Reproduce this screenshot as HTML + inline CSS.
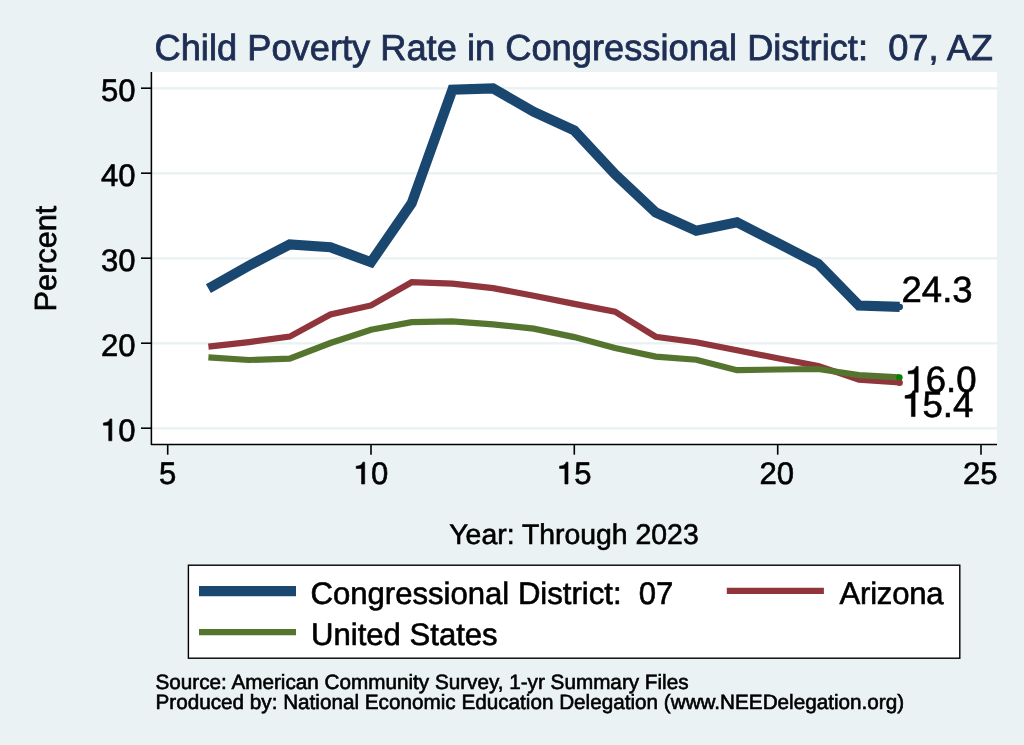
<!DOCTYPE html>
<html><head><meta charset="utf-8"><title>Child Poverty Rate in Congressional District: 07, AZ</title>
<style>
html,body{margin:0;padding:0;background:#eaf2f3;}
body{width:1024px;height:745px;overflow:hidden;font-family:"Liberation Sans",sans-serif;}
svg{display:block;will-change:transform;transform:translateZ(0);-webkit-font-smoothing:antialiased;text-rendering:geometricPrecision;}
text{font-family:"Liberation Sans",sans-serif;fill:#000;stroke:#000;stroke-width:0.6px;paint-order:stroke;}
</style></head><body>
<svg width="1024" height="745" viewBox="0 0 1024 745">
<rect x="0" y="0" width="1024" height="745" fill="#eaf2f3"/>
<rect x="151.4" y="72" width="845.6" height="372.5" fill="#ffffff"/>
<g stroke="#e9f1f2" stroke-width="2.2"><line x1="152" x2="997" y1="88.35" y2="88.35"/><line x1="152" x2="997" y1="173.35" y2="173.35"/><line x1="152" x2="997" y1="258.35" y2="258.35"/><line x1="152" x2="997" y1="343.35" y2="343.35"/><line x1="152" x2="997" y1="428.35" y2="428.35"/></g>
<g fill="none" stroke-linejoin="miter" stroke-linecap="butt" stroke-miterlimit="10">
<polyline stroke="#1a476f" stroke-width="10.1" points="208.4,288.6 249.0,265.6 289.7,244.4 330.4,247.3 371.0,262.2 411.7,203.2 452.4,89.7 493.0,88.4 533.7,111.8 574.3,130.5 615.0,174.2 655.7,212.4 696.3,230.8 737.0,222.3 777.7,243.1 818.3,263.9 859.0,305.5 899.7,306.9"/>
<polyline stroke="#90353b" stroke-width="6.2" points="208.4,346.7 249.0,342.1 289.7,336.6 330.4,314.5 371.0,305.4 411.7,282.2 452.4,283.7 493.0,288.1 533.7,295.7 574.3,303.9 615.0,311.6 655.7,336.7 696.3,342.3 737.0,350.3 777.7,358.3 818.3,365.9 859.0,379.6 899.7,382.5"/>
<polyline stroke="#55752f" stroke-width="6.2" points="208.4,357.4 249.0,360.0 289.7,358.6 330.4,343.0 371.0,329.8 411.7,322.1 452.4,321.4 493.0,324.3 533.7,328.6 574.3,337.1 615.0,348.1 655.7,356.6 696.3,359.7 737.0,370.2 777.7,369.5 818.3,369.0 859.0,375.1 899.7,377.4"/>
</g>
<circle cx="899.9" cy="306.9" r="3.1" fill="#1a476f"/>
<circle cx="899.4" cy="377.4" r="3.25" fill="#008400"/>
<circle cx="899.6" cy="382.7" r="3.25" fill="#90353b"/>
<g font-size="36.6px">
<text x="901.50" y="302.20">24.3</text><text x="905.30" y="392.40"><tspan visibility="hidden">1</tspan>6.0</text><text x="902.20" y="416.80"><tspan visibility="hidden">1</tspan>5.4</text>
</g>
<path d="M151.4,72 V444.5 H997" stroke="#000" stroke-width="1.55" fill="none" stroke-linejoin="round"/>
<g stroke="#000" stroke-width="1.6"><line x1="141" x2="151.4" y1="88.2" y2="88.2"/><line x1="141" x2="151.4" y1="173.2" y2="173.2"/><line x1="141" x2="151.4" y1="258.2" y2="258.2"/><line x1="141" x2="151.4" y1="343.2" y2="343.2"/><line x1="141" x2="151.4" y1="428.2" y2="428.2"/><line x1="167.7" x2="167.7" y1="444.5" y2="454.7"/><line x1="371.0" x2="371.0" y1="444.5" y2="454.7"/><line x1="574.3" x2="574.3" y1="444.5" y2="454.7"/><line x1="777.7" x2="777.7" y1="444.5" y2="454.7"/><line x1="981.0" x2="981.0" y1="444.5" y2="454.7"/></g>
<g font-size="31.1px"><text x="100.92" y="101.00">50</text><text x="100.92" y="186.00">40</text><text x="100.92" y="271.00">30</text><text x="100.92" y="356.00">20</text><text x="100.92" y="441.00"><tspan visibility="hidden">1</tspan>0</text><text x="159.05" y="484.20">5</text><text x="353.73" y="484.20"><tspan visibility="hidden">1</tspan>0</text><text x="557.06" y="484.20"><tspan visibility="hidden">1</tspan>5</text><text x="759.58" y="484.20">20</text><text x="962.91" y="484.20">25</text></g>
<g fill="#000" stroke="#000" stroke-width="0.6" stroke-linejoin="miter"><path d="M111.86,440.81L111.86,418.95L110.00,418.95C109.50,421.03 107.60,422.71 103.40,422.96L103.40,425.23L108.75,425.23L108.75,440.81Z"/><path d="M364.68,484.01L364.68,462.15L362.81,462.15C362.32,464.23 360.42,465.91 356.22,466.16L356.22,468.43L361.57,468.43L361.57,484.01Z"/><path d="M568.01,484.01L568.01,462.15L566.14,462.15C565.64,464.23 563.74,465.91 559.55,466.16L559.55,468.43L564.90,468.43L564.90,484.01Z"/><path d="M918.18,392.18L918.18,366.45L915.99,366.45C915.40,368.90 913.17,370.88 908.23,371.17L908.23,373.84L914.52,373.84L914.52,392.18Z"/><path d="M915.08,416.58L915.08,390.85L912.89,390.85C912.30,393.30 910.07,395.28 905.13,395.57L905.13,398.24L911.42,398.24L911.42,416.58Z"/></g>
<text x="154.5" y="59.7" font-size="36.27px" style="fill:#1e2d53;stroke:#1e2d53;stroke-width:0.8px">Child Poverty Rate in Congressional District:&#160; 07, AZ</text>
<text transform="translate(55.5,258.5) rotate(-90)" text-anchor="middle" font-size="30.7px">Percent</text>
<text x="574" y="543.9" text-anchor="middle" font-size="28.4px">Year: Through 2023</text>
<rect x="188.4" y="565.2" width="771.4" height="93" fill="#ffffff" stroke="#000" stroke-width="1.4"/>
<g fill="none">
<line x1="199" x2="296" y1="591.05" y2="591.05" stroke="#1a476f" stroke-width="10.2"/>
<line x1="726.8" x2="823.9" y1="590.9" y2="590.9" stroke="#90353b" stroke-width="6.2"/>
<line x1="199" x2="296" y1="632.2" y2="632.2" stroke="#55752f" stroke-width="6.3"/>
</g>
<g font-size="31.1px">
<text x="310.5" y="603.9">Congressional District:&#160; 07</text>
<text x="839.5" y="603.5" letter-spacing="-0.22">Arizona</text>
<text x="311" y="645.4">United States</text>
</g>
<g font-size="20.7px">
<text x="155.5" y="688.9">Source: American Community Survey, 1-yr Summary Files</text>
<text x="155.5" y="708.5">Produced by: National Economic Education Delegation (www.NEEDelegation.org)</text>
</g>
</svg>
</body></html>
